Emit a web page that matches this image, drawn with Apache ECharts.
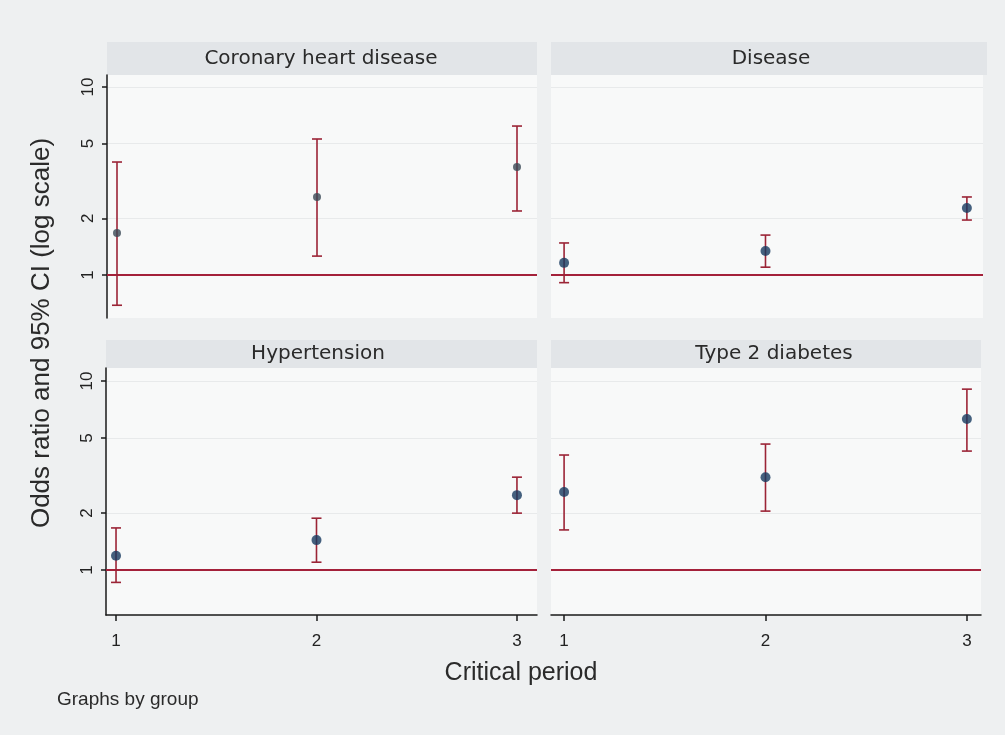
<!DOCTYPE html>
<html>
<head>
<meta charset="utf-8">
<script src="https://cdn.jsdelivr.net/npm/echarts@6/dist/echarts.min.js"></script>
<style>
html,body{margin:0;padding:0;background:#eef0f1;}
#chart{width:1005px;height:735px;}
</style>
</head>
<body>
<div id="chart"></div>
<script>
// ---- data ----
const periods = [1, 2, 3];
const panelTitles = ['Coronary heart disease', 'Disease', 'Hypertension', 'Type 2 diabetes'];
const yTicks = [1, 2, 5, 10];

const chdOR = [1.67, 2.60, 3.75];
const chdLo = [0.69, 1.26, 2.19];
const chdHi = [3.99, 5.29, 6.20];

const diseaseOR = [1.16, 1.34, 2.27];
const diseaseLo = [0.91, 1.10, 1.96];
const diseaseHi = [1.48, 1.63, 2.60];

const htnOR = [1.19, 1.44, 2.49];
const htnLo = [0.86, 1.10, 2.00];
const htnHi = [1.67, 1.88, 3.10];

const t2dOR = [2.59, 3.10, 6.30];
const t2dLo = [1.63, 2.05, 4.26];
const t2dHi = [4.06, 4.64, 9.06];

const refValue = 1;
const yLabel = 'Odds ratio and 95% CI (log scale)';
const xLabel = 'Critical period';
const noteLabel = 'Graphs by group';

// ---- build ----
const L = Math.log10;
const panels = [
  {or: chdOR, lo: chdLo, hi: chdHi},
  {or: diseaseOR, lo: diseaseLo, hi: diseaseHi},
  {or: htnOR, lo: htnLo, hi: htnHi},
  {or: t2dOR, lo: t2dLo, hi: t2dHi}
];
const FONT = 'Liberation Sans, Arial, sans-serif';
const TFONT = 'DejaVu Sans, Liberation Sans, sans-serif';
const grids = [
  {left: 107, top: 75, width: 430, height: 243},
  {left: 551, top: 75, width: 432, height: 243},
  {left: 106, top: 368, width: 431, height: 247},
  {left: 551, top: 368, width: 430, height: 247}
].map(g => Object.assign(g, {show: true, backgroundColor: '#f8f9f9', borderWidth: 0}));

const yRanges = [[-0.229, 1.064], [-0.229, 1.064], [-0.238, 1.069], [-0.238, 1.069]];
const xRanges = [[0.95, 3.1], [0.935, 3.08], [0.95, 3.1], [0.935, 3.07]];
const tickLogs = yTicks.map(L);

const xAxes = [], yAxes = [], series = [];
for (let i = 0; i < 4; i++) {
  const showX = i >= 2;
  const showY = i % 2 === 0;
  xAxes.push({
    type: 'value', gridIndex: i, min: xRanges[i][0], max: xRanges[i][1],
    show: showX,
    axisLine: {show: showX, onZero: false, lineStyle: {color: '#1a1a1a', width: 1.5}},
    axisTick: {show: true, length: 6, customValues: periods, lineStyle: {color: '#1a1a1a', width: 1.5}},
    axisLabel: {show: true, customValues: periods, margin: 18, fontSize: 17, color: '#222', fontFamily: FONT},
    splitLine: {show: false}
  });
  yAxes.push({
    type: 'value', gridIndex: i, min: yRanges[i][0], max: yRanges[i][1],
    axisLine: {show: showY, onZero: false, lineStyle: {color: '#1a1a1a', width: 1.5}},
    axisTick: {show: showY, length: 5, customValues: tickLogs, lineStyle: {color: '#1a1a1a', width: 1.5}},
    axisLabel: {show: showY, customValues: tickLogs, rotate: 90, margin: 10, fontSize: 17, color: '#222', fontFamily: FONT,
      formatter: v => String(Math.round(Math.pow(10, v)))},
    splitLine: {show: true, lineStyle: {color: '#e8eaeb', width: 1}}
  });
  const p = panels[i];
  series.push({
    type: 'custom', xAxisIndex: i, yAxisIndex: i, z: 3,
    data: periods.map((x, k) => [x, L(p.lo[k]), L(p.hi[k])]),
    renderItem: (params, api) => {
      const x = api.value(0);
      const a = api.coord([x, api.value(1)]);
      const b = api.coord([x, api.value(2)]);
      const w = 5;
      const style = {stroke: '#9b2436', lineWidth: 1.6};
      return {type: 'group', children: [
        {type: 'line', shape: {x1: a[0], y1: a[1], x2: b[0], y2: b[1]}, style},
        {type: 'line', shape: {x1: a[0] - w, y1: a[1], x2: a[0] + w, y2: a[1]}, style},
        {type: 'line', shape: {x1: b[0] - w, y1: b[1], x2: b[0] + w, y2: b[1]}, style}
      ]};
    }
  });
  series.push({
    type: 'scatter', xAxisIndex: i, yAxisIndex: i, z: 4,
    symbol: 'circle', symbolSize: i === 0 ? 8 : 10,
    itemStyle: {color: i === 0 ? '#3a4855' : '#163a5f'},
    data: periods.map((x, k) => [x, L(p.or[k])]),
    markLine: {
      silent: true, symbol: 'none', label: {show: false}, z: 2,
      lineStyle: {color: '#a4213a', width: 2, type: 'solid'},
      data: [{yAxis: L(refValue)}]
    }
  });
}

const stripRects = [
  {x: 107, y: 42, w: 430, h: 33, cx: 321}, {x: 551, y: 42, w: 436, h: 33, cx: 771},
  {x: 106, y: 340, w: 431, h: 28, cx: 318}, {x: 551, y: 340, w: 430, h: 28, cx: 774}
];
const graphics = [];
stripRects.forEach((r, i) => {
  graphics.push({type: 'rect', left: r.x, top: r.y, shape: {width: r.w, height: r.h}, style: {fill: '#e2e5e8'}, z: -1});
  graphics.push({type: 'text', x: r.cx, y: r.y + r.h / 2,
    style: {text: panelTitles[i], fill: '#2a2a2a', font: '20px ' + TFONT, textAlign: 'center', textVerticalAlign: 'middle'}});
});
graphics.push({type: 'text', x: 42, y: 333, rotation: Math.PI / 2,
  style: {text: yLabel, fill: '#2a2a2a', font: '26px ' + FONT, textAlign: 'center', textVerticalAlign: 'middle'}});
graphics.push({type: 'text', x: 521, y: 673,
  style: {text: xLabel, fill: '#2a2a2a', font: '25px ' + FONT, textAlign: 'center', textVerticalAlign: 'middle'}});
graphics.push({type: 'text', x: 57, y: 700,
  style: {text: noteLabel, fill: '#2a2a2a', font: '19px ' + FONT, textAlign: 'left', textVerticalAlign: 'middle'}});

const chart = echarts.init(document.getElementById('chart'));
chart.setOption({
  backgroundColor: '#eef0f1',
  animation: false,
  grid: grids, xAxis: xAxes, yAxis: yAxes, series: series, graphic: graphics
});
</script>
</body>
</html>
